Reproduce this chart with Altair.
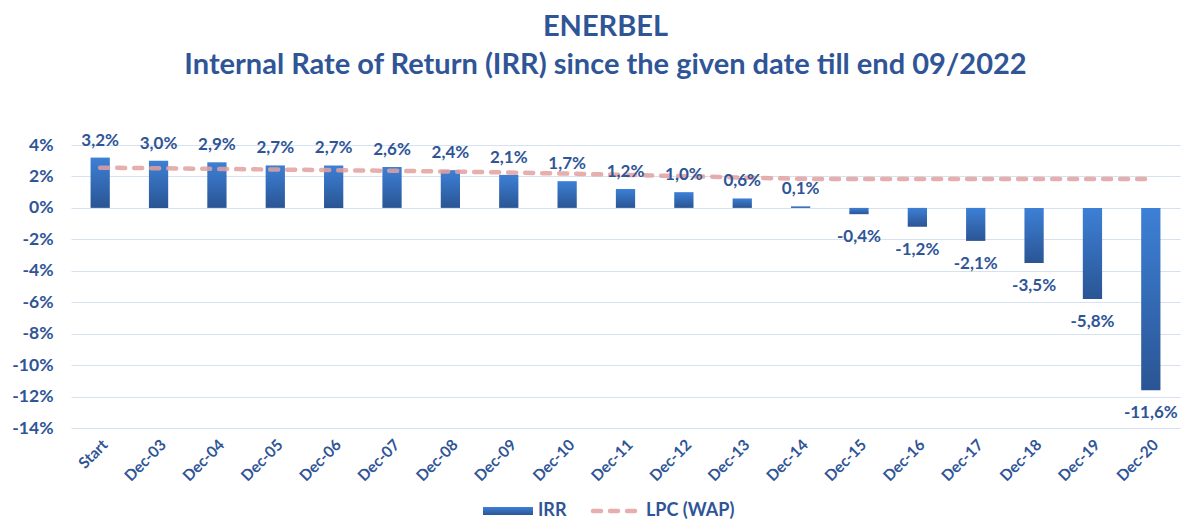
import altair as alt
import pandas as pd

categories = ["Start", "Dec-03", "Dec-04", "Dec-05", "Dec-06", "Dec-07", "Dec-08",
              "Dec-09", "Dec-10", "Dec-11", "Dec-12", "Dec-13", "Dec-14", "Dec-15",
              "Dec-16", "Dec-17", "Dec-18", "Dec-19", "Dec-20"]
irr = [3.2, 3.0, 2.9, 2.7, 2.7, 2.6, 2.4, 2.1, 1.7, 1.2, 1.0, 0.6, 0.1,
       -0.4, -1.2, -2.1, -3.5, -5.8, -11.6]
lpc_wap = [2.56, 2.52, 2.48, 2.44, 2.40, 2.36, 2.31, 2.25, 2.18, 2.10, 2.02, 1.93,
           1.85, 1.83, 1.83, 1.83, 1.83, 1.83, 1.83]
y_ticks = [-14, -12, -10, -8, -6, -4, -2, 0, 2, 4]
legend_items = ["IRR", "LPC (WAP)"]

df = pd.DataFrame({"cat": categories, "irr": irr, "lpc": lpc_wap})
df["label"] = df["irr"].map(lambda v: f"{v:.1f}%".replace(".", ","))

FONT = "Lato"
TXT = "#2F5597"
PINK = "#E3A0A0"

grad = alt.Gradient(
    gradient="linear",
    stops=[alt.GradientStop(color="#3D80D6", offset=0),
           alt.GradientStop(color="#2A5594", offset=1)],
    x1=0, x2=0, y1=0, y2=1,
)

xenc = alt.X("cat:N", sort=categories, title=None,
             scale=alt.Scale(paddingInner=0.67, paddingOuter=0.335),
             axis=alt.Axis(labelAngle=-45, labelFont=FONT, labelFontSize=15.5,
                           labelFontWeight="bold", labelColor=TXT, ticks=False,
                           domain=False, labelPadding=9, labelOverlap=False))
yscale = alt.Scale(domain=[-14, 4], nice=False)
yaxis = alt.Axis(values=y_ticks, labelExpr="datum.value + '%'",
                 labelFont=FONT, labelFontSize=17.5, labelFontWeight="bold",
                 labelColor=TXT, ticks=False, domain=False, labelPadding=18,
                 labelOverlap=False, gridColor="#D6E1F2", gridWidth=1.2)


def yenc(field):
    return alt.Y(field, scale=yscale, title=None, axis=yaxis)


base = alt.Chart(df).encode(x=xenc)

bars = base.mark_bar(color=grad).encode(y=yenc("irr:Q"))

line = base.mark_line(color=PINK, strokeWidth=4.5, strokeDash=[8, 9],
                      strokeCap="round", opacity=0.85).encode(y=yenc("lpc:Q"))

pos_labels = base.transform_filter("datum.irr >= 0").mark_text(
    font=FONT, fontSize=17, fontWeight="bold", color=TXT, baseline="alphabetic", dy=-12
).encode(y=yenc("irr:Q"), text="label:N")

neg_labels = base.transform_filter("datum.irr < 0").mark_text(
    font=FONT, fontSize=17, fontWeight="bold", color=TXT, baseline="top", dy=15
).encode(y=yenc("irr:Q"), text="label:N")

leg_df = pd.DataFrame({"item": legend_items})
LEG_Y = 366

leg_rect = alt.Chart(leg_df).transform_filter("datum.item == 'IRR'").mark_rect(color=grad).encode(
    x=alt.value(412), x2=alt.value(462), y=alt.value(LEG_Y - 4), y2=alt.value(LEG_Y + 4))
leg_rule = alt.Chart(leg_df).transform_filter("datum.item == 'LPC (WAP)'").mark_rule(
    color=PINK, strokeWidth=4.5, strokeDash=[8, 9], strokeCap="round", opacity=0.85
).encode(x=alt.value(522), x2=alt.value(568), y=alt.value(LEG_Y))
leg_text1 = alt.Chart(leg_df).transform_filter("datum.item == 'IRR'").mark_text(
    font=FONT, fontSize=18, fontWeight="bold", color=TXT, align="left", baseline="middle"
).encode(x=alt.value(467), y=alt.value(LEG_Y), text="item:N")
leg_text2 = alt.Chart(leg_df).transform_filter("datum.item == 'LPC (WAP)'").mark_text(
    font=FONT, fontSize=18, fontWeight="bold", color=TXT, align="left", baseline="middle"
).encode(x=alt.value(575), y=alt.value(LEG_Y), text="item:N")

chart = alt.layer(bars, line, pos_labels, neg_labels, leg_rect, leg_rule, leg_text1, leg_text2).properties(
    width=1109, height=283,
    padding={"left": 63, "top": 137, "right": 1, "bottom": 93},
    autosize=alt.AutoSizeParams(type="none"),
    title=alt.TitleParams(
        text="ENERBEL",
        subtitle="Internal Rate of Return (IRR) since the given date till end 09/2022",
        font=FONT, fontSize=29, fontWeight="bold", color=TXT,
        subtitleFont=FONT, subtitleFontSize=29, subtitleFontWeight="bold",
        subtitleColor=TXT, subtitlePadding=9,
        anchor="middle", offset=52, dx=-20,
    ),
).configure_view(stroke=None)

chart.save("out.html", embed_options={"renderer": "svg", "actions": False})
